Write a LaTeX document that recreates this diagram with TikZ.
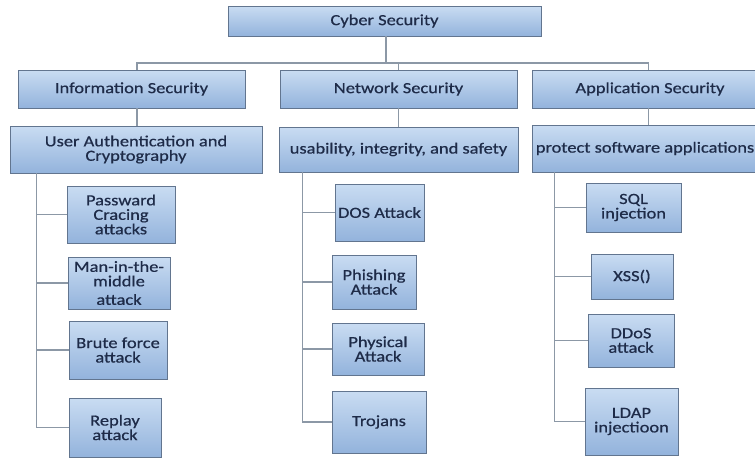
\documentclass[tikz,border=0pt]{standalone}
\usepackage{fontspec}
\setmainfont{Carlito}[FakeStretch=1.19, FakeBold=0.6]
\usepackage{xcolor}
\usetikzlibrary{positioning, calc}
\definecolor{boxtop}{HTML}{C9DCF2}
\definecolor{boxbot}{HTML}{93B3DC}
\definecolor{boxline}{HTML}{62758F}
\definecolor{linkgray}{HTML}{8C98A6}
\definecolor{ink}{HTML}{1E2B48}

\begin{document}
\begin{tikzpicture}[x=1pt, y=-1pt,
  box/.style={draw=boxline, line width=0.9pt, top color=boxtop, bottom color=boxbot,
    text=ink, inner sep=1pt, align=center,
    font=\fontsize{15.5}{14.5}\selectfont},
  link/.style={draw=linkgray, line width=1.1pt}]
  \useasboundingbox (0,0) rectangle (755,458);
  \clip (0,0) rectangle (755,458);

  % Root
  \node[box, minimum width=313pt, minimum height=30pt] (root) at (384.5,21) {Cyber Security};

  % First level
  \node[box, minimum width=227pt, minimum height=38pt] (info) at (131.5,89) {Information Security};
  \node[box, minimum width=237pt, minimum height=38pt] (net)  at (398.5,89) {Network Security};
  \node[box, minimum width=236pt, minimum height=38pt] (app)  at (650,89)   {Application Security};

  % Second level
  \node[box, minimum width=252pt, minimum height=47pt] (auth) at (136,149.5)   {User Authentication and\\Cryptography};
  \node[box, minimum width=239pt, minimum height=45pt] (uis)  at (398.5,149.5) {usability, integrity, and safety};
  \node[box, minimum width=226pt, minimum height=47pt] (psa)  at (645,148.5)   {protect software applications};

  % Attacks under information security
  \node[box, minimum width=108pt, minimum height=57pt] (pwd)  at (121,214.5) {Passward\\Cracing\\attacks};
  \node[box, minimum width=102pt, minimum height=52pt] (mitm) at (119,283)   {Man-in-the-\\middle\\[4pt]attack};
  \node[box, minimum width=98pt,  minimum height=58pt] (brute) at (118,350)  {Brute force\\attack};
  \node[box, minimum width=92pt,  minimum height=59pt] (replay) at (115,427.5) {Replay\\attack};

  % Attacks under network security
  \node[box, minimum width=89pt, minimum height=57pt] (dos)   at (379.5,212.5) {DOS Attack};
  \node[box, minimum width=84pt, minimum height=54pt] (phish) at (374,282)     {Phishing\\Attack};
  \node[box, minimum width=92pt, minimum height=52pt] (phys)  at (378,349)     {Physical\\Attack};
  \node[box, minimum width=94pt, minimum height=62pt] (troj)  at (379,422)     {Trojans};

  % Attacks under application security
  \node[box, minimum width=95pt, minimum height=49pt] (sql)  at (633.5,207.5) {SQL\\injection};
  \node[box, minimum width=82pt, minimum height=45pt] (xss)  at (632,276.5)   {XSS()};
  \node[box, minimum width=86pt, minimum height=53pt] (ddos) at (631,340.5)   {DDoS\\attack};
  \node[box, minimum width=93pt, minimum height=67pt] (ldap) at (631.5,421.5) {LDAP\\injectioon};

  % Connectors from the root
  \coordinate (bus) at (386,63);
  \draw[link] ([xshift=1.5pt]root.south) -- (bus);
  \draw[link] (bus) -| ([xshift=5.5pt]info.north);
  \draw[link] (bus) -| (net.north);
  \draw[link] (bus) -| ([xshift=-1.5pt]app.north);

  % First to second level
  \draw[link] ([xshift=5.5pt]info.south) -- ([xshift=5.5pt]info.south |- auth.north);
  \draw[link] (net.south) -- (uis.north);
  \draw[link] ([xshift=-1.5pt]app.south) -- ([xshift=-1.5pt]app.south |- psa.north);

  % Trunks to the attacks
  \foreach \n in {pwd, mitm, brute, replay}
    \draw[link] ([xshift=27pt]auth.south west) |- (\n.west);
  \foreach \n in {dos, phish, phys, troj}
    \draw[link] ([xshift=24pt]uis.south west) |- (\n.west);
  \foreach \n in {sql, xss, ddos, ldap}
    \draw[link] ([xshift=23pt]psa.south west) |- (\n.west);
\end{tikzpicture}
\end{document}
